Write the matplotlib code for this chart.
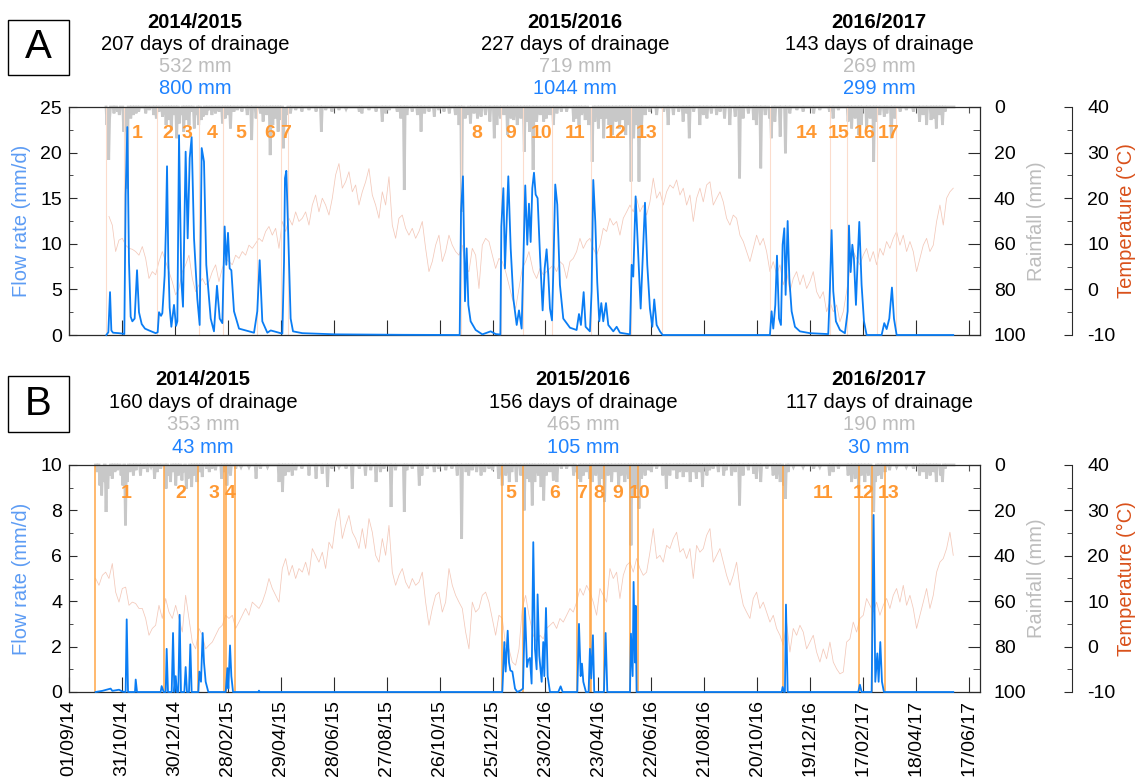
import datetime as dt
import numpy as np
import matplotlib
matplotlib.use("Agg")
import matplotlib.pyplot as plt
import matplotlib.dates as mdates
from matplotlib.patches import Rectangle
from matplotlib.ticker import MultipleLocator, FixedLocator, NullFormatter

plt.rcParams["font.family"] = ["Liberation Sans", "DejaVu Sans"]
plt.rcParams["font.size"] = 14
plt.rcParams["axes.unicode_minus"] = False

# ---------------------------------------------------------------- data
# All day values are days since 01/09/2014.
date_ticks = ["01/09/14", "31/10/14", "30/12/14", "28/02/15", "29/04/15",
              "28/06/15", "27/08/15", "26/10/15", "25/12/15", "23/02/16",
              "23/04/16", "22/06/16", "21/08/16", "20/10/16", "19/12/16",
              "17/02/17", "18/04/17", "17/06/17"]

seasons = ["2014/2015", "2015/2016", "2016/2017"]
drain_days_a = [207, 227, 143]
rain_total_a = [532, 719, 269]
flow_total_a = [800, 1044, 299]
drain_days_b = [160, 156, 117]
rain_total_b = [353, 465, 190]
flow_total_b = [43, 105, 30]

# Panel A - drainage flow rate (mm/d)
flow_a_day = [42.3, 44.6, 46.5, 48.0, 49.9, 56.7, 60.4, 62.7, 64.2, 66.1,
              68.0, 69.9, 71.8, 74.4, 77.1, 79.3, 82.4, 86.1, 90.7, 98.2,
              100.5, 102.0, 104.3, 105.8, 108.4, 109.9, 111.1, 112.6, 114.1, 116.0,
              119.0, 121.3, 122.8, 124.7, 127.3, 129.2, 132.2, 134.5, 136.8, 139.0,
              141.7, 145.4, 148.1, 150.4, 153.0, 155.6, 160.6, 164.3, 167.7, 170.8,
              173.8, 176.4, 178.3, 180.2, 182.1, 184.0, 187.0, 192.7, 209.7, 213.4,
              216.1, 219.1, 224.8, 228.6, 241.8, 243.7, 244.8, 246.3, 248.6, 251.2,
              253.9, 264.5, 302.2, 377.8, 442.8, 444.3, 446.5, 448.8, 450.7, 452.6,
              455.2, 460.9, 468.5, 477.9, 483.6, 488.9, 490.0, 492.3, 494.1, 496.0,
              497.9, 500.6, 503.6, 507.4, 510.0, 513.0, 517.1, 519.4, 521.3, 523.2,
              525.1, 527.0, 528.9, 531.1, 533.8, 536.8, 539.1, 541.3, 543.2, 545.1,
              547.4, 548.9, 551.1, 553.4, 556.4, 560.2, 567.8, 575.3, 578.0, 580.2,
              583.3, 585.5, 590.4, 592.3, 594.2, 596.5, 598.7, 601.0, 603.3, 605.5,
              608.6, 611.2, 616.9, 620.7, 624.4, 635.8, 637.7, 639.5, 642.2, 645.2,
              647.9, 650.1, 652.8, 655.4, 658.4, 661.1, 663.3, 666.0, 669.8, 672.8,
              794.4, 796.3, 798.2, 800.5, 802.4, 804.7, 806.9, 808.8, 810.7, 812.2,
              814.5, 816.4, 819.0, 822.8, 828.4, 839.8, 860.5, 862.4, 864.3, 866.2,
              869.2, 873.8, 879.4, 882.5, 884.0, 885.9, 887.8, 889.6, 891.9, 894.2,
              895.7, 898.3, 901.0, 904.0, 921.0, 924.0, 926.7, 929.7, 932.7, 935.0,
              938.0, 1002.2]
flow_a_val = [0, 0.3, 4.7, 0.5, 0.25, 0.2, 0.15, 0.1, 15.4, 22.8,
              8.0, 2.0, 1.5, 1.8, 7.1, 2.5, 1.2, 0.7, 0.5, 0.2,
              0.3, 2.5, 2.1, 2.4, 6.5, 12.0, 18.5, 8.0, 3.0, 0.9,
              3.3, 1.0, 1.5, 21.9, 6.0, 3.1, 20.1, 10.6, 19.4, 21.7,
              10.6, 4.0, 1.1, 20.5, 19.0, 7.7, 1.8, 0.4, 5.4, 1.8,
              1.3, 11.9, 7.7, 11.2, 7.3, 7.1, 2.6, 0.7, 0.25, 2.6,
              8.2, 1.5, 0.25, 0.5, 0.15, 8.0, 17.2, 18.0, 10.6, 1.8,
              0.4, 0.2, 0.07, 0.02, 0.0, 13.5, 17.4, 3.7, 9.5, 3.3,
              1.5, 0.55, 0.07, 0.4, 0.1, 0.05, 11.9, 16.1, 7.3, 12.4,
              17.4, 9.5, 4.0, 1.1, 2.7, 0.7, 16.4, 9.9, 14.4, 10.2,
              16.1, 17.8, 15.4, 15.0, 8.8, 2.7, 7.3, 9.4, 6.6, 2.9,
              1.6, 6.9, 16.5, 14.3, 5.5, 1.8, 0.8, 0.55, 2.3, 1.1,
              4.7, 0.9, 0.4, 4.8, 17.0, 12.4, 5.8, 1.5, 3.5, 1.5,
              3.5, 1.1, 0.4, 0.9, 0.25, 0.07, 7.7, 6.4, 15.2, 8.8,
              2.9, 8.0, 14.5, 7.7, 2.9, 0.9, 3.9, 1.1, 0.4, 0.0,
              0.0, 2.6, 0.7, 3.3, 8.7, 1.8, 1.1, 9.9, 11.7, 4.4,
              12.5, 6.2, 2.6, 0.9, 0.4, 0.2, 0.1, 5.1, 11.5, 4.8,
              1.5, 0.55, 0.2, 2.6, 12.0, 6.9, 9.9, 8.4, 3.3, 9.1,
              12.4, 5.5, 1.5, 0.0, 0.0, 1.3, 0.65, 1.8, 5.2, 1.8,
              0.0, 0.0]

# Panel B - drainage flow rate (mm/d)
flow_b_day = [30.2, 37.8, 47.2, 49.1, 56.7, 60.4, 64.2, 65.4, 66.9, 74.8,
              75.6, 77.1, 103.9, 105.0, 107.3, 109.6, 110.7, 112.2, 116.4, 117.9,
              119.4, 120.9, 122.4, 123.9, 125.4, 126.9, 130.7, 132.2, 133.7, 136.0,
              137.5, 139.0, 146.6, 147.7, 149.6, 151.5, 153.0, 154.9, 157.9, 177.6,
              179.5, 180.6, 182.5, 184.0, 185.9, 214.6, 215.3, 216.1, 491.1, 493.4,
              494.9, 497.2, 498.7, 500.2, 502.5, 505.5, 508.1, 511.9, 514.5, 516.8,
              519.1, 520.5, 522.4, 524.3, 526.2, 528.1, 530.0, 531.1, 533.0, 535.7,
              537.5, 538.7, 540.6, 542.5, 545.1, 554.5, 557.2, 559.5, 576.1, 578.0,
              579.9, 581.4, 582.9, 585.9, 588.9, 590.4, 591.9, 593.8, 595.3, 606.3,
              608.2, 610.1, 635.8, 636.9, 638.8, 639.9, 641.4, 642.2, 643.3, 807.7,
              808.8, 810.3, 811.4, 812.6, 814.5, 894.5, 896.4, 898.3, 909.7, 911.9,
              913.8, 916.1, 917.6, 919.5, 921.4, 923.6, 1002.2]
flow_b_val = [0, 0.05, 0.15, 0.05, 0.1, 0.02, 0, 3.2, 0, 0,
              0.55, 0, 0, 0.26, 0, 0, 1.9, 0, 0, 2.6,
              0, 0.7, 0, 0, 3.4, 0, 0, 1.1, 0, 0,
              2.1, 0, 0, 0.9, 0.45, 2.6, 1.3, 0.45, 0, 0,
              1.05, 0.15, 2.05, 0.7, 0, 0, 0.06, 0, 0, 2.2,
              0.9, 2.7, 1.3, 0.95, 0.9, 0.15, 0, 0.07, 0.15, 3.7,
              1.1, 1.4, 1.5, 0.37, 6.6, 1.9, 1.0, 4.3, 1.6, 0.45,
              2.2, 0.7, 3.7, 0.7, 0, 0, 0.25, 0, 0, 3.0,
              0.7, 1.25, 0.45, 0, 0, 1.9, 0.6, 2.5, 0, 0,
              2.6, 0, 0, 2.57, 0.7, 4.85, 1.3, 3.8, 0, 0,
              0.22, 0, 0, 3.85, 0, 0, 0.32, 0, 0, 7.8,
              0.45, 1.7, 0.45, 2.2, 0.45, 0, 0]

# Daily rainfall (mm); days not listed are dry
rain_a_first = 42
rain_a_day = [43, 45, 46, 51, 55, 57, 62, 64, 66, 70, 73, 76, 79, 87, 91, 96, 99, 102, 106, 110,
              113, 116, 119, 122, 125, 127, 130, 133, 136, 139, 142, 144, 147, 150, 152, 156, 159,
              162, 166, 170, 174, 177, 180, 183, 187, 191, 196, 202, 207, 212, 217, 220, 224, 228,
              231, 234, 237, 240, 243, 245, 247, 251, 257, 264, 272, 280, 286, 291, 298, 306, 314,
              329, 332, 340, 348, 355, 359, 363, 372, 376, 380, 383, 389, 395, 399, 403, 408, 414,
              419, 425, 431, 438, 442, 445, 449, 451, 455, 459, 463, 467, 472, 477, 482, 485, 489,
              493, 497, 501, 504, 508, 512, 516, 519,
              522, 526, 530, 534, 538, 541, 545, 549, 553, 558, 564, 572, 575, 578, 581, 585, 589,
              591, 593, 596, 600, 603, 606, 609, 612, 616, 620, 624, 627, 631, 634, 637, 640, 643,
              646, 649, 653, 658, 666, 674, 679, 685, 691, 696, 700, 703, 708, 715, 719, 723, 728,
              734, 738, 743, 749, 755, 760, 764, 770, 776, 779, 784, 789, 794, 796, 800, 806, 812,
              817, 825, 832, 844, 851, 862, 866, 872, 883, 887, 891, 895, 898, 904, 908, 912, 915,
              919, 924, 927, 932, 936, 942, 949, 957, 964, 968, 972, 977, 980, 983, 987, 990, 993]
rain_a_mm = [7.9, 23.2, 5.0, 2.8, 2.0, 3.5, 10.8, 4.2, 35.7, 5.0, 3.5, 2.8, 2.0, 2.8, 1.3, 3.5,
             5.0, 2.0, 4.2, 7.9, 5.7, 10.1, 3.5, 13.7, 7.2, 3.5, 10.8, 5.7, 7.9, 2.0, 9.4, 3.5,
             7.9, 5.7, 4.2, 3.5, 1.3, 3.5, 2.8, 2.0, 7.2, 5.0, 3.5, 9.4, 2.0, 1.3, 2.0, 3.5, 14.5,
             5.0, 2.8, 6.4, 3.5, 21.1, 7.9, 5.0, 10.8, 5.7, 18.1, 7.9, 3.5, 2.8, 1.3, 2.0, 1.3,
             2.0, 10.8, 1.3, 2.0, 1.3, 0.9, 2.0, 2.8, 1.3, 2.0, 6.4, 2.8, 1.3, 2.0, 5.0, 36.4,
             3.5, 2.0, 3.5, 10.8, 2.8, 2.0, 4.2, 1.3, 2.0, 2.8, 3.5, 7.9, 45.9, 5.0, 3.5, 7.2,
             2.8, 5.0, 4.2, 3.5, 6.4, 13.7, 7.9, 5.0, 3.5, 12.3, 5.0, 5.7, 7.9, 5.0, 19.6, 6.4,
             10.8, 27.6, 6.4, 3.5, 6.4, 5.0, 3.5, 7.9, 2.8, 2.0, 2.0, 6.4, 5.0, 7.9, 3.5, 5.7,
             7.9, 3.5, 24.0, 6.4, 9.4, 5.0, 13.7, 5.0, 7.9, 12.3, 6.4, 9.4, 5.7, 12.3, 7.9, 32.7,
             13.7, 7.9, 32.7, 7.9, 3.5, 2.0, 3.5, 2.0, 7.9, 3.5, 2.0, 6.4, 2.8, 13.7, 2.0, 7.9,
             3.5, 5.0, 2.8, 3.5, 2.0, 5.0, 7.9, 4.2, 31.3, 5.0, 2.8, 5.7, 7.9, 26.9, 3.5, 5.0,
             13.7, 6.4, 13.0, 20.3, 2.8, 1.3, 2.0, 2.8, 1.3, 2.0, 5.0, 1.3, 6.4, 9.4, 5.0, 12.3,
             7.9, 9.4, 5.0, 24.0, 6.4, 3.5, 4.2, 2.8, 13.7, 5.0, 2.0, 1.3, 2.0, 6.4, 3.5, 7.9,
             5.7, 5.0, 9.4, 3.5, 7.9, 2.0]

rain_b_first = 30
rain_b_day = [32, 35, 37, 39, 42, 44, 46, 49, 52, 55, 59, 61, 64, 66, 69, 73, 76, 81, 85, 89,
              93, 97, 100, 104, 110, 113, 115, 118, 121, 124, 128, 130, 133, 135, 139, 142, 145,
              148, 151, 156, 159, 162, 166, 173, 176, 179, 183, 189, 195, 204, 212, 217, 225, 238,
              242, 245, 249, 253, 257, 264, 272, 280, 287, 293, 298, 306, 314, 321, 329, 336, 342,
              348, 353, 357, 365, 370, 380, 383, 389, 397, 400, 406, 414, 419, 427, 434, 440, 445,
              450, 453, 457, 462, 467, 471, 476, 480, 487, 491, 495, 499, 502, 507, 512, 516, 519,
              522, 525, 528, 532, 535, 538, 541, 545, 549, 553, 558, 564, 572, 575, 577, 580, 583,
              586, 590, 593, 597, 601, 604, 607, 611, 615, 619, 623, 626, 630, 634, 637, 640, 643,
              646, 649, 653, 657, 660, 666, 673, 677, 681, 685, 689, 692, 696, 700, 704, 708, 711,
              715, 718, 723, 726, 730, 736, 742, 745, 751, 755, 760, 764, 770, 776, 779, 784, 791,
              798, 802, 806, 810, 812, 815, 821, 832, 844, 851, 862, 866, 872, 883, 887, 891, 895,
              898, 902, 906, 910, 912, 914, 917, 921, 925, 930, 938, 949, 957, 964, 968, 972, 976,
              980, 983, 988, 990, 993]
rain_b_mm = [3.1, 9.0, 13.4, 7.5, 20.7, 10.4, 4.6, 6.0, 3.1, 2.3, 4.6, 9.0, 26.6, 7.5, 3.1, 4.6,
             2.3, 4.6, 1.6, 3.1, 0.9, 6.0, 3.1, 1.6, 10.4, 4.6, 7.5, 3.1, 9.0, 4.6, 6.8, 3.1,
             10.4, 6.0, 9.7, 4.6, 7.5, 3.1, 5.3, 1.6, 3.1, 1.6, 2.3, 6.0, 3.1, 9.0, 4.6, 1.6,
             0.9, 0.9, 6.0, 1.6, 0.9, 7.5, 11.9, 4.6, 3.1, 4.6, 2.3, 1.6, 4.6, 6.0, 3.8, 9.7,
             1.6, 0.9, 1.6, 10.4, 1.6, 4.6, 2.3, 7.5, 3.1, 1.6, 18.5, 2.3, 20.7, 2.3, 1.6, 9.0,
             4.6, 1.6, 3.1, 1.6, 2.3, 1.6, 4.6, 32.5, 3.1, 4.6, 2.3, 3.1, 4.6, 3.1, 1.6, 2.3,
             6.0, 9.0, 4.6, 7.5, 3.1, 7.5, 4.6, 20.0, 6.0,
             7.5, 17.8, 7.5, 4.6, 9.7, 15.6, 4.6, 3.1, 6.8, 7.5, 1.6, 1.6, 4.6, 3.1, 6.0, 7.5,
             4.6, 3.1, 6.0, 7.5, 4.6, 9.0, 6.0, 16.3, 4.6, 7.5, 3.1, 9.0, 4.6, 7.5, 6.0, 35.4,
             13.4, 10.4, 19.2, 6.0, 4.6, 2.3, 3.1, 1.6, 4.6, 10.4, 4.6, 2.3, 6.0, 3.1, 5.3, 3.1,
             7.5, 3.1, 6.0, 3.1, 9.7, 4.6, 2.3, 1.6, 3.1, 4.6, 2.3, 4.6, 3.1, 17.8, 4.6, 2.3,
             3.8, 6.0, 7.5, 1.6, 4.6, 6.0, 7.5, 9.0, 14.8, 3.1, 0.9, 0.9, 1.6, 0.9, 4.6, 3.1,
             1.6, 4.6, 7.5, 6.0, 10.4, 4.6, 7.5, 4.6, 11.9, 20.7, 7.5, 4.6, 6.0, 3.1, 2.3, 0.9,
             0.9, 1.6, 4.6, 3.1, 6.0, 4.6, 3.1, 7.5, 4.6, 7.5, 1.6]

# Air temperature (deg C), sampled about every 3.8 days in two stretches
temp_a_span = [(45.3, 521.3), (526.2, 1002.2)]
temp_a = [16.0, 14.1, 8.3, 10.8, 11.2, 9.7, 9.0, 8.8, 8.3, 7.5,
          9.4, 6.8, 2.4, 3.9, 3.2, 6.1, 8.3, 6.1, 3.9, 1.7,
          -1.2, 0.2, 3.9, 5.4, 7.5, 2.4, -0.5, 1.0, 2.4, 1.0,
          1.7, 3.9, 5.4, 1.7, 4.6, 6.8, 6.1, 5.4, 7.5, 6.8,
          8.3, 7.5, 9.7, 9.0, 10.1, 11.2, 10.5, 12.7, 13.8, 11.9,
          13.4, 9.0, 14.9, 12.7, 15.6, 14.1, 17.0, 14.9, 15.6, 17.0,
          14.1, 18.5, 20.7, 17.0, 20.0, 18.5, 16.3, 20.0, 25.1, 27.6,
          22.2, 23.6, 25.8, 21.4, 22.9, 18.5, 21.4, 23.6, 26.5, 20.7,
          18.5, 15.6, 21.4, 18.5, 24.7, 14.1, 11.2, 15.6, 16.3, 13.4,
          11.9, 13.4, 11.2, 12.7, 14.9, 9.0, 3.9, 6.1, 9.7, 11.9,
          6.1, 8.3, 11.9, 9.7, 8.3, 7.5, 9.7, 4.6, 3.9, 9.0,
          7.5, 0.2, 9.7, 11.2, 10.5, 7.5, 4.6, 6.8, 6.1, 3.9,
          1.0, -2.0, -4.2, 0.2, 4.6, 6.1, 8.3,
          3.9, 2.4, 4.6, 3.2, 3.9, 4.6, 5.4, 3.9, 6.1, 5.4,
          2.4, 6.1, 6.8, 8.3, 11.2, 9.0, 10.5, 11.2, 9.0, 7.5,
          9.7, 13.4, 12.7, 15.6, 14.1, 14.9, 11.9, 15.6, 17.0, 18.5,
          17.0, 20.0, 17.0, 18.5, 16.3, 19.2, 24.4, 20.0, 21.4, 18.5,
          21.4, 22.9, 22.2, 24.0, 20.7, 22.2, 18.5, 20.7, 14.9, 20.0,
          22.2, 19.2, 22.9, 23.6, 18.5, 20.0, 21.4, 19.2, 15.6, 14.1,
          16.3, 15.6, 11.9, 10.5, 8.3, 6.1, 9.0, 11.9, 9.7, 11.2,
          8.3, 3.9, 6.1, 3.2, 5.4, 1.0, 3.9, -0.5, 2.4, 3.9,
          1.0, 3.2, 0.2, 1.7, 3.9, -0.5, -2.0, -0.5, -4.9, -2.7,
          -4.9, -3.4, -7.1, -4.9, -0.5, 4.6, 8.3, 6.8, 5.4, 7.5,
          9.0, 6.1, 8.3, 5.4, 9.0, 7.5, 10.5, 9.0, 11.2, 12.7,
          9.7, 11.9, 8.3, 10.5, 8.3, 3.9, 6.8, 9.7, 11.2, 8.3,
          9.7, 14.9, 18.5, 14.1, 20.0, 21.4, 22.2]
temp_a_count = [127, 127]

temp_b_span = [(30.2, 521.3), (526.2, 1002.2)]
temp_b = [15.0, 13.5, 15.7, 16.4, 15.0, 18.3, 12.0, 9.8, 12.8, 13.1,
          9.1, 9.8, 9.5, 8.4, 8.4, 6.2, 2.5, 4.0, 4.7, 9.1,
          6.2, 10.6, 7.6, 6.2, 9.1, 6.2, 3.2, 11.3, 6.2, 1.0,
          -0.5, 4.0, 2.5, -0.5, 0.3, 1.0, 2.5, 4.0, 4.7, 6.9,
          6.2, 6.9, 4.0, 5.4, 6.9, 8.4, 6.9, 9.8, 9.1, 8.4,
          9.8, 12.0, 15.0, 12.8, 11.3, 9.8, 17.2, 19.4, 15.7, 17.9,
          15.0, 17.2, 16.4, 18.6, 15.7, 21.6, 20.1, 18.6, 20.8, 17.2,
          23.0, 21.6, 27.4, 30.4, 23.8, 26.7, 28.9, 25.2, 23.8, 21.6,
          26.0, 21.6, 28.2, 25.2, 20.1, 18.6, 23.8, 20.1, 26.7, 16.4,
          13.5, 15.7, 17.2, 14.2, 12.8, 15.0, 13.5, 14.2, 16.4, 9.8,
          4.7, 8.4, 11.3, 12.0, 7.6, 9.8, 17.2, 13.5, 11.3, 9.8,
          8.4, 3.2, -0.5, 9.8, 7.6, 8.4, 11.3, 12.0, 9.8, 6.2,
          2.5, 6.9, 6.2, 0.3, -0.5, -3.4, -4.1, -0.5, 8.4, 11.3,
          6.9,
          2.5, 1.0, 2.5, 1.7, 4.0, 4.7, 5.4, 4.0, 6.2, 5.4,
          6.9, 8.4, 7.6, 9.8, 12.8, 11.3, 13.5, 12.0, 9.8, 6.9,
          12.8, 11.3, 9.8, 17.2, 15.0, 16.4, 10.6, 15.7, 17.9, 18.6,
          16.4, 19.4, 17.2, 15.7, 16.4, 20.8, 26.0, 19.4, 20.1, 18.6,
          22.3, 21.6, 23.8, 25.2, 20.8, 21.6, 19.4, 21.6, 15.0, 22.3,
          20.8, 21.6, 24.5, 26.0, 18.6, 20.1, 21.6, 18.6, 15.7, 13.5,
          15.7, 18.6, 12.8, 9.1, 7.6, 6.2, 10.6, 12.0, 8.4, 9.8,
          7.6, 5.4, 6.9, 4.0, 2.5, 0.3, 5.4, -1.2, 4.0, 2.5,
          4.7, 3.2, -0.5, 1.0, 2.5, -1.2, -3.4, -0.5, -2.7, 1.0,
          -3.4, -4.9, -6.0, -5.6, 1.0, 1.7, 5.4, 3.2, 6.2, 6.9,
          10.6, 9.1, 7.6, 9.8, 6.9, 9.1, 10.6, 8.4, 11.3, 12.8,
          9.8, 13.5, 9.1, 11.3, 8.4, 4.0, 6.9, 9.8, 12.8, 8.4,
          11.3, 16.4, 18.6, 19.4, 21.6, 25.2, 20.1]
temp_b_count = [131, 127]

# Drainage events: boundaries and numbered labels
events_a_bounds = [42.3, 62.3, 100.0, 147.3, 174.5, 212.7, 240.6, 248.2, 444.0, 489.2,
                   514.3, 547.7, 591.2, 636.5, 671.7, 795.0, 863.0, 882.3, 915.2, 937.8]
events_a_label_day = [77, 112, 134, 162, 195, 228, 246, 462, 501, 536, 573, 620, 655,
                      836, 872, 902, 929]
events_b_bounds = [30.0, 108.0, 146.5, 175.7, 177.5, 188.5, 490.3, 514.3, 575.3, 590.3,
                   591.5, 606.7, 636.3, 645.2, 808.8, 895.0, 910.0, 925.3]
events_b_label_day = [65, 127, 164, 183, 500.5, 551, 581, 600, 622.5, 646.3, 855, 900, 929]

# ---------------------------------------------------------------- styling
FLOW_BLUE = "#0a7df4"
HEAD_BLUE = "#1e82ff"
LABEL_BLUE = "#5d9cf4"
RAIN_GREY = "#c8c8c8"
RAIN_TEXT = "#bdbdbd"
TEMP_LINE = "#f3c8b9"
TEMP_TEXT = "#d9501a"
EVENT_ORANGE = "#ff9933"
SPINE = "#2b2b2b"

W, H = 1137, 783
fig = plt.figure(figsize=(W / 100, H / 100), dpi=100)


def fx(px):
    return px / W


def fy(py):
    return 1 - py / H


T0 = mdates.date2num(dt.datetime(2014, 9, 1))
tick_pos = [mdates.date2num(dt.datetime.strptime(s, "%d/%m/%y")) for s in date_ticks]


def sample_days(spans, counts):
    return np.concatenate([np.linspace(a, b, n) for (a, b), n in zip(spans, counts)])


def daily_rain(first, days, mm):
    d = np.arange(first, 1004)
    v = np.zeros(d.size)
    v[np.asarray(days) - first] = mm
    return d, v


def panel(top_px, bot_px, fmax, fstep, flow_day, flow_val, rain, temp_day, temp_val,
          bounds, bound_style, label_day, label_y, show_dates):
    rect = [fx(69), fy(bot_px), fx(980) - fx(69), (bot_px - top_px) / H]
    ax = fig.add_axes(rect)
    ax_r = ax.twinx()
    ax_t = ax.twinx()
    for a, z in ((ax_t, 1), (ax_r, 2), (ax, 3)):
        a.set_zorder(z)
        a.patch.set_visible(False)

    # temperature
    ax_t.plot(T0 + temp_day, temp_val, color=TEMP_LINE, lw=0.55)
    ax_t.set_ylim(-10, 40)
    for s in ("left", "top", "bottom"):
        ax_t.spines[s].set_visible(False)
    ax_t.spines["right"].set_position(("axes", (1072 - 69) / (980 - 69)))
    ax_t.spines["right"].set_color(SPINE)
    ax_t.yaxis.set_major_locator(MultipleLocator(10))
    ax_t.yaxis.set_minor_locator(MultipleLocator(5))
    ax_t.tick_params(axis="y", which="major", direction="in", length=5.5, pad=11,
                     labelsize=14, color=SPINE)
    ax_t.tick_params(axis="y", which="minor", direction="in", length=3.5, color=SPINE)

    # rainfall (inverted, hanging from the top)
    rd, rv = daily_rain(*rain)
    ax_r.plot(T0 + rd, rv, color=RAIN_GREY, lw=2.0, clip_on=False, solid_joinstyle="miter")
    ax_r.set_ylim(100, 0)
    for s in ax_r.spines.values():
        s.set_visible(False)
    ax_r.yaxis.set_major_locator(MultipleLocator(20))
    ax_r.yaxis.set_minor_locator(MultipleLocator(10))
    ax_r.tick_params(axis="y", which="major", direction="in", length=9, pad=10,
                     labelsize=14, color=SPINE)
    ax_r.tick_params(axis="y", which="minor", direction="in", length=5, color=SPINE)
    ax_r.xaxis.set_visible(True)
    ax_r.tick_params(axis="x", which="major", direction="in", top=True, bottom=False,
                     labeltop=False, labelbottom=False, length=4, color="#555555")
    ax_r.tick_params(axis="x", which="minor", top=False, bottom=False)

    # event boundaries and numbers
    for b in bounds:
        ax.axvline(T0 + b, **bound_style)
    for i, d in enumerate(label_day):
        ax.text(T0 + d, label_y, str(i + 1), ha="center", va="center",
                color=EVENT_ORANGE, fontsize=14, fontweight="bold", zorder=4)

    # drainage flow
    ax.plot(T0 + np.asarray(flow_day), flow_val, color=FLOW_BLUE, lw=1.3,
            clip_on=False, zorder=3)
    ax.set_ylim(0, fmax)
    ax.set_xlim(T0, T0 + 1032.5)
    ax.yaxis.set_major_locator(MultipleLocator(fstep))
    ax.yaxis.set_minor_locator(MultipleLocator(fstep / 2))
    ax.tick_params(axis="y", which="major", direction="in", length=5.5, pad=5,
                   labelsize=14, left=True, right=False, color=SPINE)
    ax.tick_params(axis="y", which="minor", direction="in", length=3, left=True,
                   right=False, color=SPINE)
    ax.xaxis.set_major_locator(FixedLocator(tick_pos))
    ax.xaxis.set_minor_locator(FixedLocator([]))
    ax.tick_params(axis="x", which="major", direction="in", length=11, top=False,
                   bottom=True, color=SPINE, labelsize=14, pad=6)
    if show_dates:
        ax.set_xticklabels(date_ticks, rotation=90, va="top", ha="center")
    else:
        ax.xaxis.set_major_formatter(NullFormatter())
    for s in ax.spines.values():
        s.set_color(SPINE)
        s.set_linewidth(0.9)
    return ax


temp_a_day = sample_days(temp_a_span, temp_a_count)
temp_b_day = sample_days(temp_b_span, temp_b_count)

panel(107, 335, 25, 5, flow_a_day, flow_a_val, (rain_a_first, rain_a_day, rain_a_mm),
      temp_a_day, temp_a, events_a_bounds,
      dict(color="#fcdccc", lw=0.8, zorder=1), events_a_label_day, 22.1, False)
panel(465, 692, 10, 2, flow_b_day, flow_b_val, (rain_b_first, rain_b_day, rain_b_mm),
      temp_b_day, temp_b, events_b_bounds,
      dict(color="#ffa646", lw=1.1, zorder=1), events_b_label_day, 8.74, True)

# season headers
head_x_a = [195, 575, 879]
head_x_b = [203, 583, 879]
for xs, ys, dd, rt, ft in ((head_x_a, (22, 45, 67, 89), drain_days_a, rain_total_a, flow_total_a),
                           (head_x_b, (380, 402, 424, 447), drain_days_b, rain_total_b, flow_total_b)):
    for x, s, d, r, f in zip(xs, seasons, dd, rt, ft):
        fig.text(fx(x), fy(ys[0]), s, ha="center", va="center", fontsize=14.5,
                 fontweight="bold", color="black")
        fig.text(fx(x), fy(ys[1]), f"{d} days of drainage", ha="center", va="center",
                 fontsize=14.5, color="black")
        fig.text(fx(x), fy(ys[2]), f"{r} mm", ha="center", va="center",
                 fontsize=14.5, color=RAIN_TEXT)
        fig.text(fx(x), fy(ys[3]), f"{f} mm", ha="center", va="center",
                 fontsize=14.5, color=HEAD_BLUE)

# axis titles
for yc in ((107 + 335) / 2, (465 + 692) / 2):
    fig.text(fx(22), fy(yc), "Flow rate (mm/d)", rotation=90, ha="center", va="center",
             fontsize=14.5, color=LABEL_BLUE)
    fig.text(fx(1036), fy(yc), "Rainfall (mm)", rotation=90, ha="center", va="center",
             fontsize=14.5, color=RAIN_TEXT)
    fig.text(fx(1126), fy(yc), "Temperature (°C)", rotation=90, ha="center", va="center",
             fontsize=14.5, color=TEMP_TEXT)

# panel letters
for letter, top, bot in (("A", 20, 75), ("B", 376, 432)):
    fig.add_artist(Rectangle((fx(8), fy(bot)), fx(69) - fx(8), (bot - top) / H,
                             transform=fig.transFigure, fill=False, lw=1.0,
                             edgecolor="black"))
    fig.text(fx(38.5), fy((top + bot) / 2), letter, ha="center", va="center",
             fontsize=29, color="black")

fig.savefig("out.png", dpi=100, facecolor="white")
